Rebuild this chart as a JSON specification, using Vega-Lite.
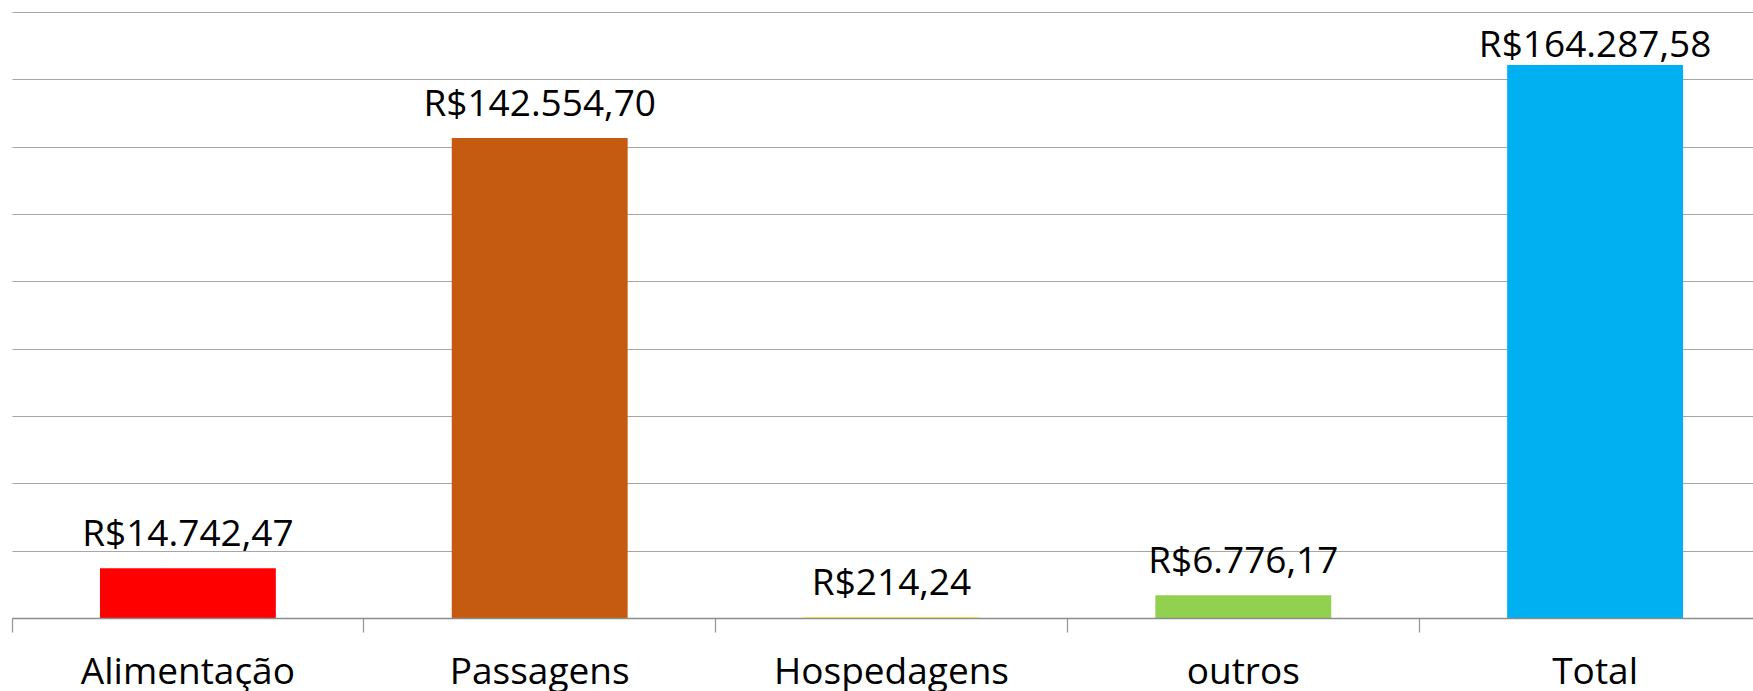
{
  "$schema": "https://vega.github.io/schema/vega-lite/v6.json",
  "autosize": {"type": "none"},
  "padding": {"left": 12, "top": 12, "right": 0, "bottom": 73},
  "width": 1741,
  "height": 606,
  "background": "white",
  "config": {
    "view": {"stroke": null},
    "locale": {"number": {"decimal": ",", "thousands": ".", "grouping": [3], "currency": ["R$", ""]}},
    "font": "Open Sans"
  },
  "data": {
    "values": [
      {"categoria": "Alimentação", "valor": 14742.47},
      {"categoria": "Passagens", "valor": 142554.70},
      {"categoria": "Hospedagens", "valor": 214.24},
      {"categoria": "outros", "valor": 6776.17},
      {"categoria": "Total", "valor": 164287.58}
    ]
  },
  "encoding": {
    "x": {
      "field": "categoria",
      "type": "nominal",
      "sort": null,
      "scale": {"range": [0, 1759], "paddingInner": 0, "paddingOuter": 0},
      "axis": {
        "title": null,
        "bandPosition": 0,
        "labelAngle": 0,
        "labelFont": "Open Sans",
        "labelFontSize": 37,
        "labelColor": "#000000",
        "labelBaseline": "alphabetic",
        "labelPadding": 51,
        "labelLimit": 0,
        "labelOverlap": false,
        "tickSize": 14,
        "tickColor": "#999999",
        "tickWidth": 1.3,
        "domainColor": "#8c8c8c",
        "domainWidth": 1.5,
        "grid": false,
        "zindex": 1
      }
    }
  },
  "layer": [
    {
      "mark": {"type": "bar", "width": {"band": 0.5}},
      "encoding": {
        "y": {
          "field": "valor",
          "type": "quantitative",
          "scale": {"domain": [0, 180000], "nice": false},
          "axis": {
            "title": null,
            "labels": false,
            "ticks": false,
            "domain": false,
            "grid": true,
            "values": [0, 20000, 40000, 60000, 80000, 100000, 120000, 140000, 160000, 180000],
            "gridColor": "#a6a6a6",
            "gridWidth": 1.2
          }
        },
        "color": {
          "field": "categoria",
          "type": "nominal",
          "scale": {
            "domain": ["Alimentação", "Passagens", "Hospedagens", "outros", "Total"],
            "range": ["#ff0000", "#c55a11", "#ffff00", "#92d050", "#00b0f0"]
          },
          "legend": null
        }
      }
    },
    {
      "transform": [{"calculate": "min(datum.valor, 160000)", "as": "posRotulo"}],
      "mark": {"type": "text", "baseline": "alphabetic", "dy": -22, "fontSize": 37, "font": "Open Sans", "color": "#000000"},
      "encoding": {
        "y": {"field": "posRotulo", "type": "quantitative", "scale": {"domain": [0, 180000], "nice": false}},
        "text": {"field": "valor", "type": "quantitative", "format": "$,.2f"}
      }
    }
  ]
}
